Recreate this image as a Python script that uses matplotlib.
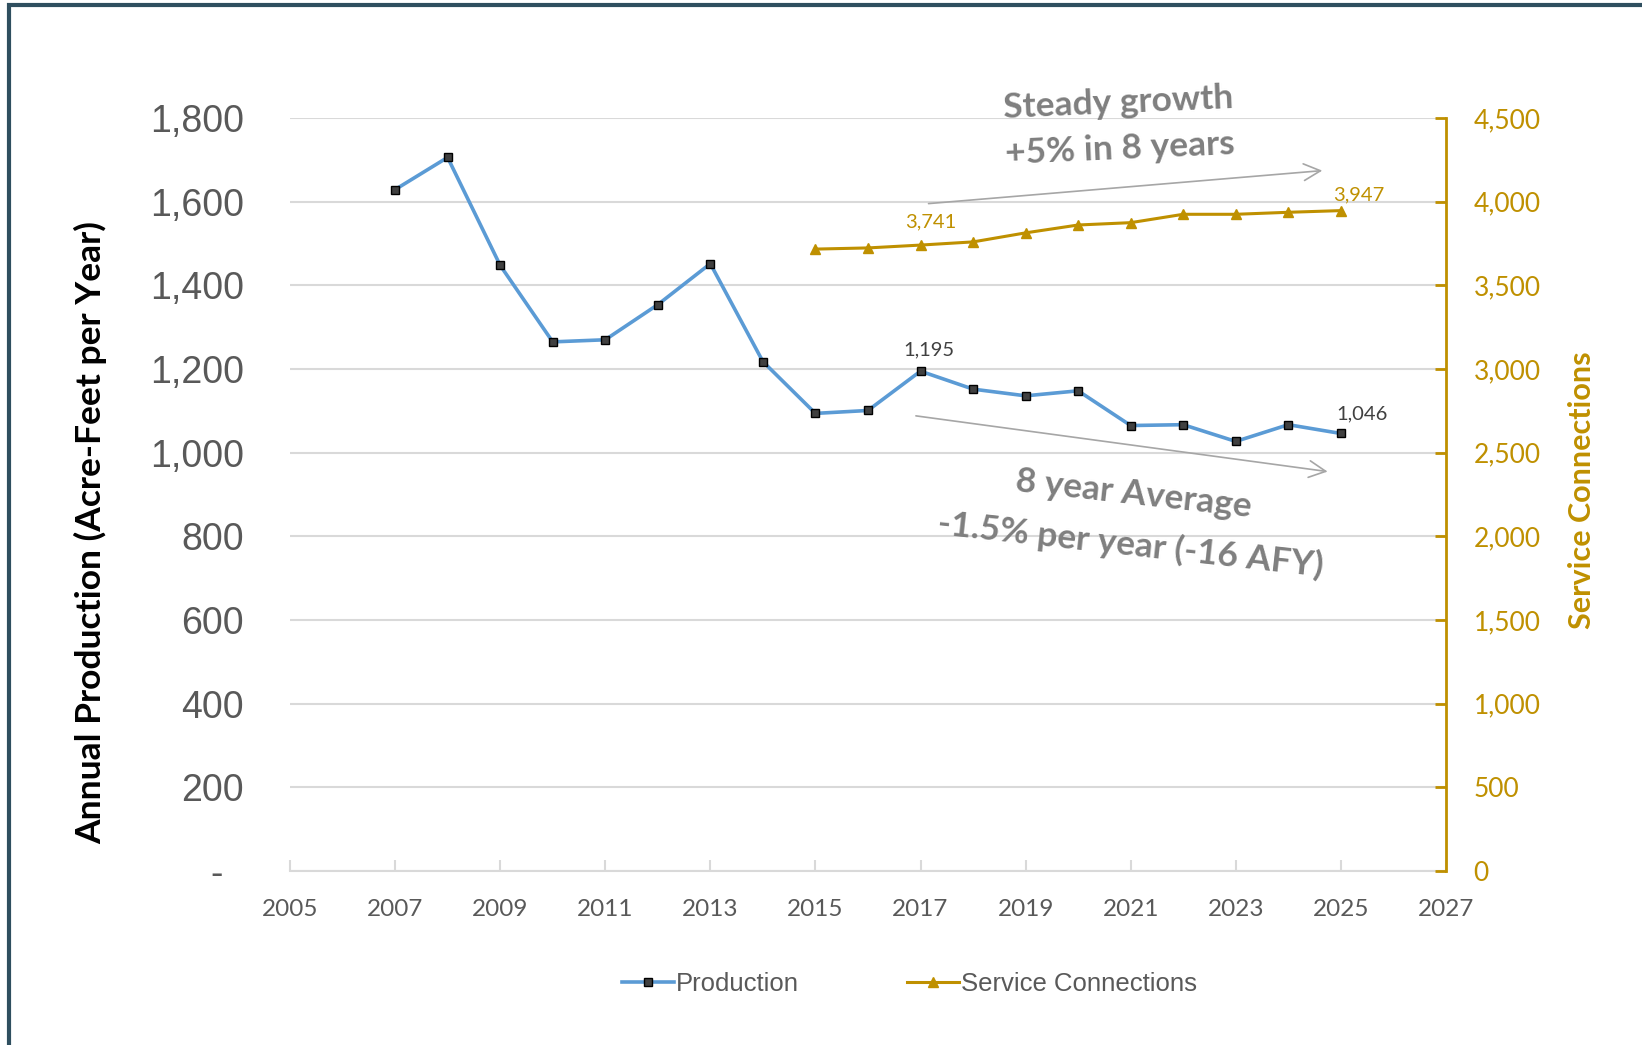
import matplotlib
matplotlib.use("Agg")
import matplotlib.pyplot as plt
from matplotlib.patches import Rectangle
from matplotlib.ticker import FuncFormatter, MultipleLocator, FixedLocator

# Datos
anios_prod = [2007, 2008, 2009, 2010, 2011, 2012, 2013, 2014, 2015, 2016,
              2017, 2018, 2019, 2020, 2021, 2022, 2023, 2024, 2025]
produccion = [1629, 1706, 1448, 1265, 1270, 1354, 1452, 1218, 1094, 1101,
              1195, 1152, 1136, 1148, 1065, 1067, 1027, 1067, 1046]

anios_con = [2015, 2016, 2017, 2018, 2019, 2020, 2021, 2022, 2023, 2024, 2025]
conexiones = [3717, 3724, 3741, 3760, 3814, 3861, 3875, 3925, 3925, 3937, 3947]

anios_eje = list(range(2005, 2028, 2))

AZUL = "#5B9BD5"
ORO = "#BF9000"
GRIS = "#595959"
GRIS_FLECHA = "#A6A6A6"
GRIS_TEXTO = "#7F7F7F"
CALIBRI = "Lato"
ARIAL = "Liberation Sans"


def miles(v, pos):
    return f"{int(round(v)):,}"


def miles_izq(v, pos):
    if abs(v) < 1e-9:
        return "-  "
    return f"{int(round(v)):,}"


fig = plt.figure(figsize=(16.42, 10.45), dpi=100)
ax = fig.add_axes([0.1766, 0.1665, 0.704, 0.7205])
ax2 = ax.twinx()

# Marco exterior
fig.patches.append(Rectangle((0.0055, -0.02), 1.2, 1.0150, transform=fig.transFigure,
                             fill=False, edgecolor="#2F4F5F", linewidth=3))

# Series
l1, = ax.plot(anios_prod, produccion, color=AZUL, lw=2.6, marker="s", markersize=6,
              markerfacecolor="#404040", markeredgecolor="black", markeredgewidth=1,
              label="Production", zorder=3)
l2, = ax2.plot(anios_con, conexiones, color=ORO, lw=2.2, marker="^", markersize=7,
               markerfacecolor=ORO, markeredgecolor=ORO, label="Service Connections")

# Eje izquierdo
ax.set_xlim(2005, 2027)
ax.set_ylim(0, 1800)
ax.yaxis.set_major_locator(MultipleLocator(200))
ax.yaxis.set_major_formatter(FuncFormatter(miles_izq))
ax.xaxis.set_major_locator(FixedLocator(anios_eje))
ax.grid(axis="y", color="#D9D9D9", lw=1.5)
ax.set_axisbelow(True)
for s in ["left", "top", "right"]:
    ax.spines[s].set_visible(False)
ax.spines["bottom"].set_color("#D9D9D9")
ax.spines["bottom"].set_linewidth(1.5)
ax.tick_params(axis="y", length=0, pad=33, labelsize=27, labelcolor=GRIS)
ax.tick_params(axis="x", direction="in", length=8, width=1.5, color="#D9D9D9",
               pad=20, labelsize=17.5, labelcolor=GRIS)
for t in ax.get_yticklabels():
    t.set_fontfamily(ARIAL)
for t in ax.get_xticklabels():
    t.set_fontfamily(CALIBRI)
ax.set_ylabel("Annual Production (Acre-Feet per Year)", fontsize=25.5, fontweight="bold",
              family=CALIBRI, color="black")
ax.yaxis.set_label_coords(-0.158, 0.45)

# Eje derecho
ax2.set_ylim(0, 4500)
ax2.yaxis.set_major_locator(MultipleLocator(500))
ax2.yaxis.set_major_formatter(FuncFormatter(miles))
for s in ["left", "top", "bottom"]:
    ax2.spines[s].set_visible(False)
ax2.spines["right"].set_color(ORO)
ax2.spines["right"].set_linewidth(2)
ax2.tick_params(axis="y", direction="in", length=8, width=2, color=ORO, pad=20,
                labelsize=19, labelcolor=ORO)
for t in ax2.get_yticklabels():
    t.set_fontfamily(CALIBRI)
ax2.set_ylabel("Service Connections", fontsize=22, fontweight="bold", family=CALIBRI,
               color=ORO)
ax2.yaxis.set_label_coords(1.106, 0.506)

# Etiquetas de datos
ax.annotate(f"{produccion[10]:,}", (anios_prod[10], produccion[10]), xytext=(6, 15),
            textcoords="offset points", ha="center", va="center", fontsize=14.5,
            family=CALIBRI, color="#404040")
ax.annotate(f"{produccion[-1]:,}", (anios_prod[-1], produccion[-1]), xytext=(15, 14),
            textcoords="offset points", ha="center", va="center", fontsize=14.5,
            family=CALIBRI, color="#404040")
ax2.annotate(f"{conexiones[2]:,}", (anios_con[2], conexiones[2]), xytext=(7.5, 16.5),
             textcoords="offset points", ha="center", va="center", fontsize=14.5,
             family=CALIBRI, color=ORO)
ax2.annotate(f"{conexiones[-1]:,}", (anios_con[-1], conexiones[-1]), xytext=(13, 11.5),
             textcoords="offset points", ha="center", va="center", fontsize=14.5,
             family=CALIBRI, color=ORO)

# Flechas de tendencia
flecha = dict(arrowstyle="->", color=GRIS_FLECHA, lw=1.2, mutation_scale=30)
ax.annotate("", xy=(2024.7, 1675), xytext=(2017.1, 1595), arrowprops=flecha,
            annotation_clip=False)
ax.annotate("", xy=(2024.8, 954), xytext=(2016.86, 1089), arrowprops=flecha)

# Textos de tendencia
estilo = dict(fontsize=25.5, fontweight="bold", family=CALIBRI, color=GRIS_TEXTO,
              ha="center", va="center", rotation_mode="anchor", clip_on=False)
ax.text(2020.76, 1837, "Steady growth", rotation=2.5, **estilo)
ax.text(2020.8, 1727, "+5% in 8 years", rotation=2.5, **estilo)
ax.text(2021.06, 901, "8 year Average", rotation=-6.3, **estilo)
ax.text(2021.0, 781, "-1.5% per year (-16 AFY)", rotation=-6.3, **estilo)

# Leyenda
fig.legend(handles=[l1, l2], loc="center", bbox_to_anchor=(0.554, 0.058), ncol=2,
           frameon=False, prop={"family": ARIAL, "size": 18.5}, labelcolor=GRIS,
           handlelength=2.0, handletextpad=0.1, columnspacing=4.2)

fig.savefig("out.png", dpi=100)
